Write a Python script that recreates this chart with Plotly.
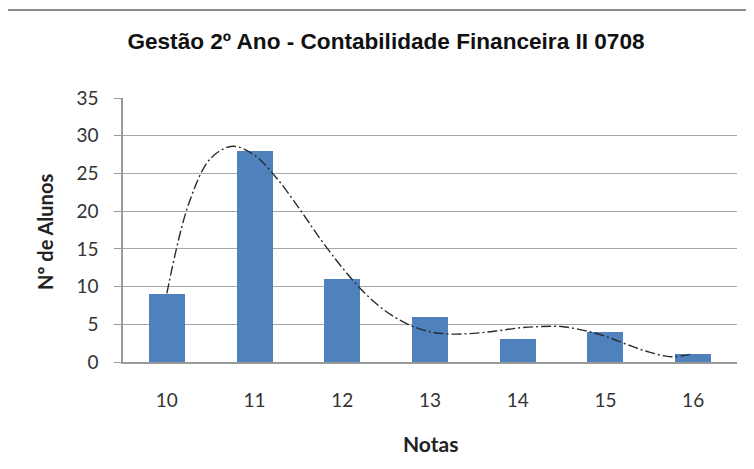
import plotly.graph_objects as go

# ---- data ----
notas = [10, 11, 12, 13, 14, 15, 16]
tick_labels = ["10", "11", "12", "13", "14", "15", "16"]
alunos = [9, 28, 11, 6, 3, 4, 1]

# trend curve (quarter-grade steps)
trend_x = [10, 10.25, 10.5, 10.75, 11, 11.25, 11.5, 11.75, 12, 12.25, 12.5, 12.75,
           13, 13.25, 13.5, 13.75, 14, 14.25, 14.5, 14.75, 15, 15.25, 15.5, 15.75, 16]
trend_y = [9.1, 21.0, 27.0, 28.6, 27.4, 24.4, 20.5, 16.3, 12.5, 9.2, 6.7, 5.0,
           4.0, 3.7, 3.8, 4.1, 4.5, 4.7, 4.7, 4.2, 3.4, 2.3, 1.3, 0.7, 1.1]

title_text = "Gestão 2º Ano - Contabilidade Financeira II 0708"
y_title = "Nº de Alunos"
x_title = "Notas"

W, H = 754, 469
OFF = 8  # page body offset
L, R, T, B = 123 - OFF, 737 - OFF, 98 - OFF, 362 - OFF  # plot area in figure pixels
pw, ph = R - L, B - T

def px(x):
    return (x - OFF - L) / pw

def py(y):
    return (B - (y - OFF)) / ph

fig = go.Figure()
fig.add_trace(go.Bar(
    x=notas, y=alunos, width=0.41,
    marker=dict(color="#4f81bd", line=dict(width=0)),
    showlegend=False,
))
fig.add_trace(go.Scatter(
    x=trend_x, y=trend_y, mode="lines",
    line=dict(color="#2b2b2b", width=1.4, dash="10px,3px,2px,3px", shape="spline", smoothing=1),
    showlegend=False,
))

tick_font = dict(family="Lato, Carlito, sans-serif", size=19, color="#333333")

fig.update_layout(
    width=W, height=H,
    margin=dict(l=L, r=W - R, t=T, b=H - B, pad=0),
    paper_bgcolor="white", plot_bgcolor="white",
    title=dict(text=title_text, x=(386 - OFF) / W, xanchor="center", y=1 - (41 - OFF) / H,
               yanchor="middle", yref="container", xref="container",
               font=dict(family="Liberation Sans, Arial, sans-serif", size=22.6, color="#111111", weight="bold")),
    xaxis=dict(range=[9.5, 16.5], tickvals=notas, ticktext=tick_labels, showgrid=False,
               showline=True, linecolor="#9a9a9a", linewidth=1.5, ticks="", tickfont=tick_font,
               ticklabelstandoff=20, zeroline=False, fixedrange=True),
    yaxis=dict(range=[0, 35], dtick=5, showgrid=True, gridcolor="#a8a8a8", gridwidth=1,
               showline=True, linecolor="#9a9a9a", linewidth=1.5, ticks="outside", ticklen=7,
               tickcolor="#9a9a9a", tickfont=tick_font, ticklabelstandoff=12, zeroline=False),
    bargap=0,
    annotations=[
        dict(text="<b>" + y_title + "</b>", x=px(45), y=py(232), xref="paper", yref="paper",
             showarrow=False, textangle=-90, xanchor="center", yanchor="middle",
             font=dict(family="Lato, Carlito, sans-serif", size=20, color="#222222")),
        dict(text="<b>" + x_title + "</b>", x=px(430), y=py(443), xref="paper", yref="paper",
             showarrow=False, xanchor="center", yanchor="middle",
             font=dict(family="Lato, Carlito, sans-serif", size=21, color="#222222")),
    ],
    shapes=[
        dict(type="rect", xref="paper", yref="paper",
             x0=px(7), x1=px(752), y0=py(480), y1=py(10),
             line=dict(color="#8c8c8c", width=2), fillcolor="rgba(0,0,0,0)", layer="below"),
    ],
)

fig.write_html("out.html")
